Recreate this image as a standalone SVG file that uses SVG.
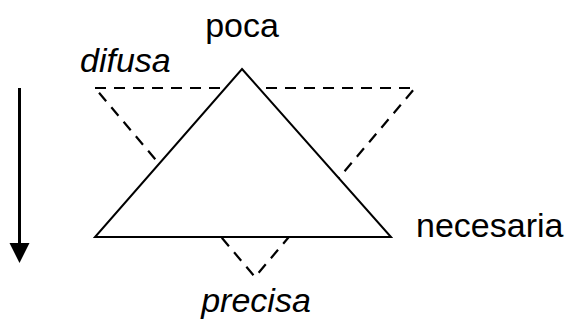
<svg xmlns="http://www.w3.org/2000/svg" width="570" height="320" viewBox="0 0 570 320">
<style>
.lbl{font-family:"Liberation Sans",Arial,sans-serif;font-size:34px;fill:#000}
.it{font-style:italic}
.solid{fill:#fff;stroke:#000;stroke-width:2}
.dash{fill:none;stroke:#000;stroke-width:2.2;stroke-dasharray:11,8}
</style>
<rect width="570" height="320" fill="#fff"/>
<g id="dashed-triangle"><polygon class="dash" points="95,88 415,88 255,277"/></g>
<g id="solid-triangle"><polygon class="solid" points="242,69 391,237 95,237"/></g>
<g id="connectors">
<line x1="19.5" y1="88" x2="19.5" y2="246" stroke="#000" stroke-width="3"/>
<polygon points="9.5,243 29.5,243 19.5,263" fill="#000"/>
</g>
<g id="labels">
<text class="lbl" x="242" y="37" text-anchor="middle">poca</text>
<text class="lbl it" x="80" y="72">difusa</text>
<text class="lbl" x="416" y="237">necesaria</text>
<text class="lbl it" x="256" y="312" text-anchor="middle">precisa</text>
</g>
</svg>
